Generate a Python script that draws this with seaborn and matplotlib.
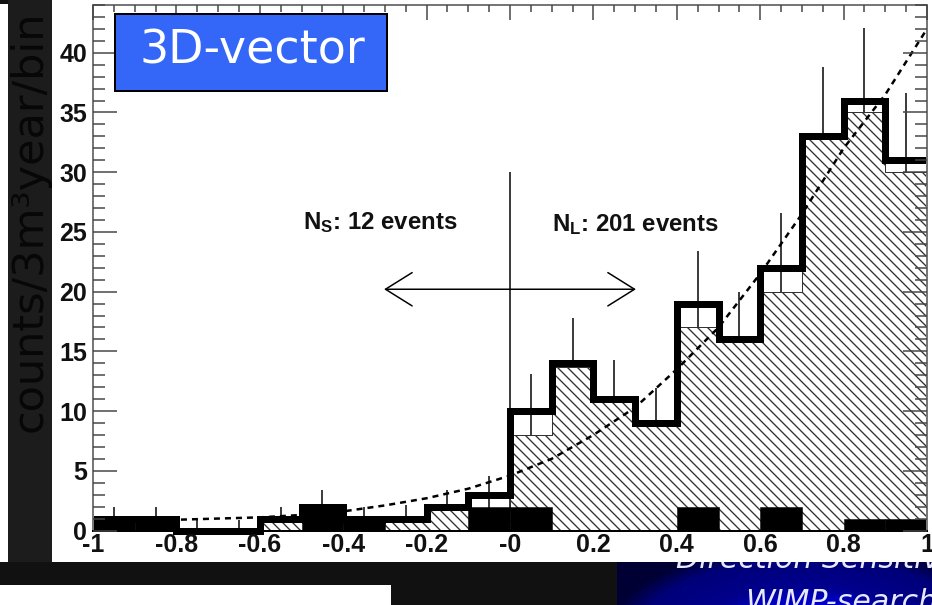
import numpy as np
import pandas as pd
import matplotlib
matplotlib.use("Agg")
import matplotlib.pyplot as plt
from matplotlib.patches import Rectangle
from matplotlib.ticker import MultipleLocator, FixedLocator, FixedFormatter
from matplotlib.colors import LinearSegmentedColormap
import seaborn as sns

# ---------------- data ----------------
bin_lo = [-1.0, -0.9, -0.8, -0.7, -0.6, -0.5, -0.4, -0.3, -0.2, -0.1,
          0.0, 0.1, 0.2, 0.3, 0.4, 0.5, 0.6, 0.7, 0.8, 0.9]
bin_last_edge = 1.0
data_counts = [1, 1, 0, 0, 1, 2, 1, 1, 2, 3, 10, 14, 11, 9, 19, 16, 22, 33, 36, 31]
data_err_hi = [1.0, 1.0, 0.9, 0.9, 1.0, 1.35, 1.0, 1.1, 1.4, 1.6,
               3.1, 3.8, 3.3, 2.9, 4.4, 4.0, 4.6, 5.8, 6.1, 5.6]
data_err_lo = [1.0, 1.0, 0.0, 0.0, 1.0, 1.35, 1.0, 1.0, 1.4, 1.6,
               3.1, 3.8, 3.3, 2.9, 4.4, 4.0, 4.6, 5.8, 6.1, 5.6]
expected_hatched = [0, 0, 0, 0, 0.7, 0.6, 0.6, 0.7, 1.7, 1.9,
                    8.0, 13.7, 10.8, 9.0, 17.0, 16.0, 20.0, 33.0, 35.0, 30.0]
black_counts = [1, 1, 0, 0, 0, 2, 1, 0, 0, 2, 2, 0, 0, 0, 2, 0, 2, 0, 1, 1]
curve_x = [-1.0, -0.9, -0.8, -0.7, -0.6, -0.5, -0.4, -0.3, -0.2, -0.1, 0.0,
           0.1, 0.2, 0.3, 0.4, 0.5, 0.6, 0.7, 0.8, 0.9, 1.0]
curve_y = [0.7, 0.8, 0.9, 1.0, 1.1, 1.3, 1.6, 2.1, 2.7, 3.5, 4.6,
           6.0, 8.0, 10.3, 13.5, 17.0, 21.5, 26.5, 32.0, 36.5, 42.0]

xtick_vals = [-1, -0.8, -0.6, -0.4, -0.2, 0, 0.2, 0.4, 0.6, 0.8, 1]
xtick_labels = ["-1", "-0.8", "-0.6", "-0.4", "-0.2", "-0", "0.2", "0.4", "0.6", "0.8", "1"]
ytick_vals = [0, 5, 10, 15, 20, 25, 30, 35, 40]
ytick_labels = ["0", "5", "10", "15", "20", "25", "30", "35", "40"]

label_ns = r"N$_{S}$: 12 events"
label_nl = r"N$_{L}$: 201 events"
box_text = "3D-vector"
ylabel_text = "counts/3m\u00b3year/bin"
banner_line1 = "Direction Sensitive"
banner_line2 = "WIMP-search"
cut_x, cut_top = 0.0, 30.0
arrow_y, arrow_left, arrow_right = 20.2, -0.302, 0.302
ns_pos = (-0.496, 25.2)
nl_pos = (0.100, 25.1)

# ---------------- figure ----------------
W, H, DPI = 932, 605, 120
sns.set_style("white")
plt.rcParams["font.family"] = ["Liberation Sans", "DejaVu Sans"]
plt.rcParams["mathtext.fontset"] = "custom"
plt.rcParams["mathtext.rm"] = "Liberation Sans"
plt.rcParams["mathtext.bf"] = "Liberation Sans:bold"
plt.rcParams["mathtext.it"] = "Liberation Sans:italic"
plt.rcParams["mathtext.default"] = "bf"
plt.rcParams["hatch.linewidth"] = 0.8

fig = plt.figure(figsize=(W / DPI, H / DPI), dpi=DPI, facecolor="#111111")

def fx(x):
    return x / W

def fy(y):
    return 1 - y / H

def prect(x0, y0, x1, y1, **kw):
    r = Rectangle((fx(x0), fy(y1)), fx(x1) - fx(x0), fy(y0) - fy(y1),
                  transform=fig.transFigure, **kw)
    fig.add_artist(r)
    return r

def pt(px):
    return px * 72.0 / DPI

# slide background pieces
prect(0, 0, 932, 605, facecolor="#111111", edgecolor="none", zorder=-20)
prect(0, 4, 8, 562, facecolor="white", edgecolor="none", zorder=-15)
prect(8, 0, 52, 562, facecolor="#1c1c1c", edgecolor="none", zorder=-15)
prect(52, 0, 932, 562, facecolor="white", edgecolor="none", zorder=-15)
prect(0, 585, 391, 605, facecolor="white", edgecolor="none", zorder=-15)

fig.text(fx(30), fy(221), ylabel_text, rotation=90, ha="center", va="center",
         fontsize=pt(43), color="#070707", family=["DejaVu Sans"], zorder=-10)

# ---------------- main axes ----------------
ax = fig.add_axes([fx(93), fy(530.5), fx(927) - fx(93), fy(5) - fy(530.5)])
ax.set_facecolor("white")

edges = bin_lo + [bin_last_edge]
centers = [lo + 0.05 for lo in bin_lo]
df = pd.DataFrame({"center": centers, "data": data_counts,
                   "mc": expected_hatched, "black": black_counts})

ax.errorbar(centers, data_counts, yerr=[data_err_lo, data_err_hi], fmt="none",
            ecolor="black", elinewidth=0.9, capsize=0, zorder=2)
ax.vlines(cut_x, 0, cut_top, color="black", lw=0.9, zorder=2.2)

sns.histplot(data=df, x="center", weights="mc", bins=edges, element="step",
             fill=True, color="white", edgecolor="#333333", linewidth=0.6,
             hatch="\\\\\\\\", alpha=1, ax=ax, zorder=3)
sns.lineplot(x=curve_x, y=curve_y, ax=ax, color="black", linewidth=1.5,
             linestyle=(0, (2.4, 2.0)), zorder=3.5)
sns.histplot(data=df, x="center", weights="black", bins=edges, element="bars",
             fill=True, color="black", edgecolor="black", linewidth=0.3,
             alpha=1, ax=ax, zorder=4)
sns.histplot(data=df, x="center", weights="data", bins=edges, element="step",
             fill=False, color="black", linewidth=pt(7), ax=ax, zorder=6,
             clip_on=False, solid_joinstyle="miter", solid_capstyle="butt")

ax.annotate("", xy=(arrow_left, arrow_y), xytext=(arrow_right, arrow_y),
            arrowprops=dict(arrowstyle="<->,head_length=1.6,head_width=1.0",
                            lw=0.9, color="black", shrinkA=0, shrinkB=0,
                            mutation_scale=10), zorder=5)

ax.text(ns_pos[0], ns_pos[1], label_ns, fontsize=pt(24), fontweight="bold",
        color="#111111", ha="left", va="baseline")
ax.text(nl_pos[0], nl_pos[1], label_nl, fontsize=pt(24), fontweight="bold",
        color="#111111", ha="left", va="baseline")

ax.set_xlim(-1, 1)
ax.set_ylim(0, 44)
ax.set_xlabel("")
ax.set_ylabel("")
ax.xaxis.set_major_locator(FixedLocator(xtick_vals))
ax.xaxis.set_major_formatter(FixedFormatter(xtick_labels))
ax.xaxis.set_minor_locator(MultipleLocator(0.05))
ax.yaxis.set_major_locator(FixedLocator(ytick_vals))
ax.yaxis.set_major_formatter(FixedFormatter(ytick_labels))
ax.yaxis.set_minor_locator(MultipleLocator(1))

ax.tick_params(axis="x", which="major", direction="in", length=pt(15), width=pt(1.5),
               top=True, bottom=False, labelbottom=True, pad=pt(2.5),
               color="#444444", labelcolor="#111111", labelsize=pt(25))
ax.tick_params(axis="x", which="minor", direction="in", length=pt(7), width=pt(1.5),
               top=True, bottom=False, color="#444444")
ax.tick_params(axis="y", which="major", direction="in", length=pt(24), width=pt(1.5),
               left=True, right=True, pad=pt(6),
               color="#444444", labelcolor="#111111", labelsize=pt(25))
ax.tick_params(axis="y", which="minor", direction="in", length=pt(12), width=pt(1.5),
               left=True, right=True, color="#444444")
for lab in ax.get_xticklabels() + ax.get_yticklabels():
    lab.set_fontweight("bold")
ax.xaxis.set_zorder(7)
ax.yaxis.set_zorder(7)

for side in ["left", "top", "right"]:
    ax.spines[side].set_color("#777777")
    ax.spines[side].set_linewidth(pt(2))
    ax.spines[side].set_zorder(7)
ax.spines["bottom"].set_color("black")
ax.spines["bottom"].set_linewidth(pt(2))
ax.spines["bottom"].set_zorder(7)

# blue label box
prect(115, 14, 387, 91, facecolor="#3466f7", edgecolor="black", linewidth=pt(2), zorder=10)
fig.text(fx(252), fy(63), box_text, ha="center", va="baseline", color="white",
         fontsize=pt(46), family=["DejaVu Sans"], zorder=11)

# ---------------- banner image bottom right (drawn beneath the white chart panel) ----------------
bax = fig.add_axes([fx(617), fy(605), fx(932) - fx(617), fy(562) - fy(605)])
bax.set_zorder(-17)
bax.set_axis_off()
gx = np.linspace(617, 932, 316)
gy = np.linspace(562, 605, 44)
GX, GY = np.meshgrid(gx, gy)
d = np.sqrt(((GX - 808) / 185.0) ** 2 + ((GY - 640) / 88.0) ** 2)
cmap = LinearSegmentedColormap.from_list(
    "bn", [(0.0, "#0000d2"), (0.42, "#0000c4"), (0.55, "#00008e"),
           (0.85, "#000078"), (0.97, "#000042"), (1.0, "#000035")])
bax.imshow(np.clip(d / 1.1, 0, 1), cmap=cmap, vmin=0, vmax=1, aspect="auto",
           extent=(617, 932, 605, 562), interpolation="bilinear")
bax.set_xlim(617, 932)
bax.set_ylim(605, 562)
bax.text(676, 568, banner_line1, color="#e8e8ff", fontsize=pt(30), style="italic",
         family=["DejaVu Sans"], ha="left", va="baseline", clip_on=False)
bax.text(745, 611, banner_line2, color="#e8e8ff", fontsize=pt(30), style="italic",
         family=["DejaVu Sans"], ha="left", va="baseline", clip_on=False)

fig.savefig("out.png", dpi=DPI, facecolor=fig.get_facecolor())
